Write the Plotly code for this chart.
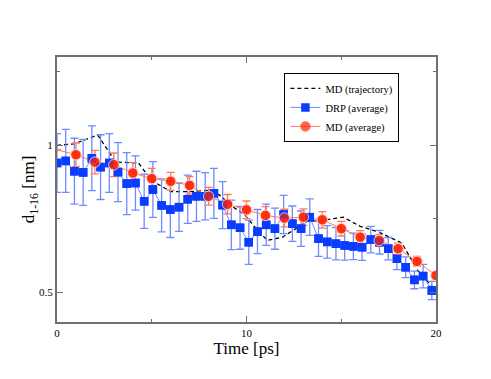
import plotly.graph_objects as go

# DRP (average), blue squares with error bars
drp_t = [0.0, 0.46, 0.92, 1.38, 1.84, 2.3, 2.76, 3.22, 3.68, 4.14, 4.6, 5.06, 5.52, 5.98,
         6.44, 6.9, 7.36, 7.82, 8.28, 8.74, 9.2, 9.66, 10.12, 10.58, 11.04, 11.5, 11.96,
         12.42, 12.88, 13.34, 13.8, 14.26, 14.72, 15.18, 15.64, 16.1, 16.56, 17.02, 17.48,
         17.94, 18.4, 18.86, 19.32, 19.78]
drp_d = [0.94, 0.947, 0.912, 0.908, 0.956, 0.926, 0.94, 0.909, 0.87, 0.872, 0.81, 0.85,
         0.796, 0.782, 0.79, 0.817, 0.827, 0.827, 0.837, 0.797, 0.73, 0.72, 0.671, 0.707,
         0.73, 0.717, 0.765, 0.734, 0.717, 0.756, 0.683, 0.672, 0.666, 0.66, 0.657, 0.654,
         0.68, 0.671, 0.649, 0.615, 0.586, 0.543, 0.556, 0.507]
drp_err = [0.10, 0.107, 0.112, 0.112, 0.11, 0.11, 0.10, 0.10, 0.105, 0.092, 0.092, 0.095,
           0.09, 0.095, 0.082, 0.082, 0.085, 0.08, 0.085, 0.08, 0.084, 0.073, 0.075, 0.075,
           0.07, 0.07, 0.065, 0.06, 0.06, 0.062, 0.06, 0.055, 0.055, 0.05, 0.045, 0.045,
           0.045, 0.04, 0.038, 0.037, 0.035, 0.03, 0.04, 0.031]

# MD (average), red circles; first point (t=0) has no symbol
md_t = [0, 1, 2, 3, 4, 5, 6, 7, 8, 9, 10, 11, 12, 13, 14, 15, 16, 17, 18, 19, 20]
md_d = [0.985, 0.968, 0.943, 0.934, 0.906, 0.887, 0.878, 0.864, 0.827, 0.80, 0.781, 0.762,
        0.753, 0.756, 0.747, 0.717, 0.688, 0.677, 0.649, 0.606, 0.558]
md_err = [0, 0.04, 0.04, 0.04, 0.035, 0.035, 0.03, 0.03, 0.03, 0.033, 0.03, 0.03, 0.03,
          0.028, 0.028, 0.025, 0.022, 0.02, 0.019, 0.017, 0.01]

# MD (trajectory), dashed black
traj_t = [0, 0.9, 2.15, 2.8, 3.1, 4.3, 5.0, 6.0, 7.0, 8.1, 8.6, 9.3, 9.9, 10.4, 11.1, 11.9,
          12.7, 13.2, 14.0, 15.1, 16.0, 17.0, 18.2, 19.0, 19.8, 20.0]
traj_d = [1.0, 1.005, 1.035, 0.975, 0.943, 0.94, 0.88, 0.843, 0.843, 0.847, 0.83, 0.79,
          0.765, 0.725, 0.677, 0.688, 0.722, 0.742, 0.745, 0.756, 0.725, 0.705, 0.668,
          0.578, 0.52, 0.5]

font = "Liberation Serif"
blue, blue_light = "#0a3cff", "#6f8cff"
red, red_light = "#ff2200", "#ff7a5c"
md_sizes = [0] + [10.5] * 20

fig = go.Figure()

fig.add_trace(go.Scatter(x=traj_t, y=traj_d, mode="lines", name="MD (trajectory)",
                         line=dict(color="black", width=1.3, dash="4px,3px")))

fig.add_trace(go.Scatter(x=drp_t, y=drp_d, mode="lines+markers", name="DRP (average)",
                         line=dict(color=blue_light, width=1),
                         marker=dict(symbol="square", size=8.5, color=blue),
                         error_y=dict(type="data", array=drp_err, color=blue_light,
                                      thickness=1.3, width=4)))

fig.add_trace(go.Scatter(x=md_t, y=md_d, mode="lines+markers", name="MD (average)",
                         line=dict(color=red_light, width=1),
                         marker=dict(symbol="circle", size=md_sizes, color=red),
                         error_y=dict(type="data", array=md_err, color=red_light,
                                      thickness=1.3, width=4)))

# symbols again on top, so the error bars sit behind them
fig.add_trace(go.Scatter(x=drp_t, y=drp_d, mode="markers", showlegend=False,
                         marker=dict(symbol="square", size=8.5, color=blue)))
fig.add_trace(go.Scatter(x=md_t, y=md_d, mode="markers", showlegend=False,
                         marker=dict(symbol="circle", size=md_sizes, color=red)))

axis_common = dict(showline=True, linecolor="#707070", linewidth=2, mirror="allticks",
                   ticks="inside", ticklen=6, tickcolor="#707070", tickwidth=1,
                   showgrid=False, zeroline=False,
                   tickfont=dict(family=font, size=11, color="black"))

fig.update_xaxes(range=[0, 20], tickvals=[0, 10, 20],
                 minor=dict(tickvals=[5, 15], ticks="inside", ticklen=3, tickcolor="#707070"),
                 title=dict(text="Time [ps]", font=dict(family=font, size=17, color="black"),
                            standoff=0),
                 **axis_common)
fig.update_yaxes(range=[0.4, 1.3], tickvals=[0.5, 1], ticktext=["0.5", "1"],
                 minor=dict(tickvals=[0.75, 1.25], ticks="inside", ticklen=3, tickcolor="#707070"),
                 title=dict(text="d<sub>1-16</sub> [nm]",
                            font=dict(family=font, size=17, color="black"), standoff=0),
                 **axis_common)

# the page body adds an 8px offset, so the figure is drawn 8px smaller
fig.update_layout(width=483, height=371, margin=dict(l=49, r=55, t=49, b=57),
                  plot_bgcolor="white", paper_bgcolor="white",
                  font=dict(family=font, color="black"),
                  legend=dict(x=0.6, y=0.94, xanchor="left", yanchor="top",
                              bgcolor="white", bordercolor="black", borderwidth=1,
                              font=dict(family=font, size=10.5, color="black"),
                              tracegroupgap=0, itemwidth=30))

fig.write_html("out.html")
